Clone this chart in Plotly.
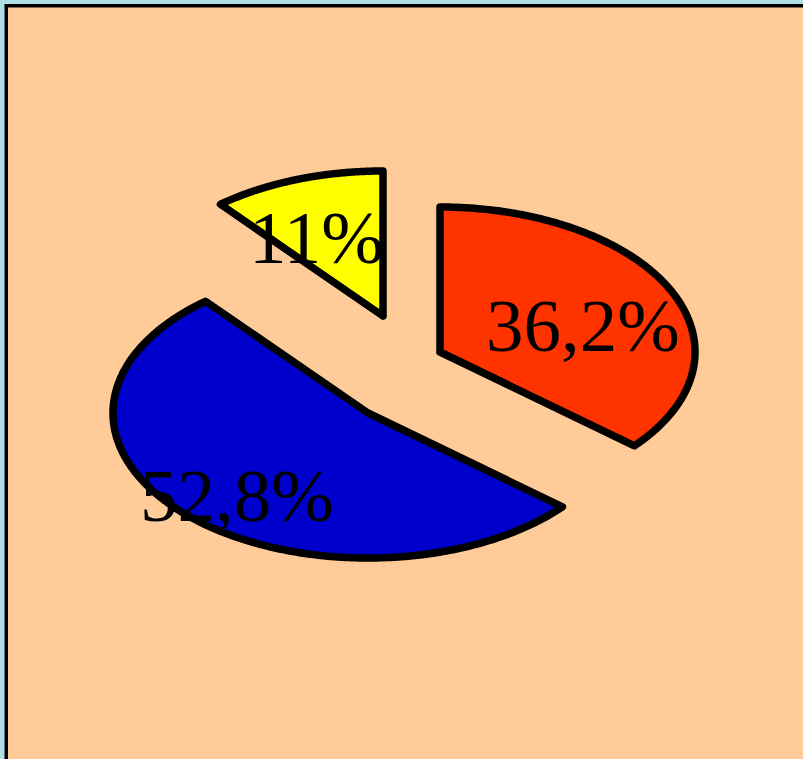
import numpy as np
import plotly.graph_objects as go

# ---- data ----
values = [36.2, 52.8, 11.0]
label_texts = ["36,2%", "52,8%", "11%"]
colors = ["#FF3300", "#0000CC", "#FFFF00"]

# ---- layout / geometry (styling, not data) ----
W, H = 803, 759
radius_x, radius_y = 255, 145            # flattened (tilted) pie
slice_centers = [(440, 352), (368, 413), (383, 316)]   # exploded centres
label_positions = [(583, 325), (237, 495), (316, 237)]

fig = go.Figure()

total = sum(values)
start = 0.0
for v, col, (cx, cy) in zip(values, colors, slice_centers):
    sweep = 360.0 * v / total
    th = np.radians(np.linspace(start, start + sweep, 240))
    xs = np.concatenate([[cx], cx + radius_x * np.sin(th), [cx]])
    ys = np.concatenate([[cy], cy - radius_y * np.cos(th), [cy]])
    fig.add_trace(go.Scatter(
        x=xs, y=ys, mode="lines", fill="toself", fillcolor=col,
        line=dict(color="black", width=7.5, simplify=False),
        hoverinfo="skip", showlegend=False))
    start += sweep

for txt, (lx, ly) in zip(label_texts, label_positions):
    fig.add_annotation(x=lx, y=ly, xref="x", yref="y", text=txt, showarrow=False,
                       xanchor="center", yanchor="middle",
                       font=dict(family="Liberation Serif, Times New Roman, serif",
                                 size=75, color="black"))

fig.add_shape(type="rect", xref="x", yref="y", x0=6.25, y0=5.75, x1=W + 30, y1=H + 30,
              line=dict(color="black", width=3.5), fillcolor="#FFCC99", layer="below")

fig.update_layout(
    width=W, height=H, margin=dict(l=0, r=0, t=0, b=0),
    paper_bgcolor="#B0E0E6", plot_bgcolor="rgba(0,0,0,0)",
    xaxis=dict(range=[0, W], visible=False, fixedrange=True),
    yaxis=dict(range=[H, 0], visible=False, fixedrange=True),
    showlegend=False,
)

fig.write_html("out.html", config={"displayModeBar": False, "staticPlot": True},
               post_script="document.body.style.margin='0';document.body.style.overflow='hidden';"
                           "document.querySelectorAll('path.js-line').forEach(function(p){"
                           "p.style.strokeLinejoin='round';p.style.strokeLinecap='round';});")
